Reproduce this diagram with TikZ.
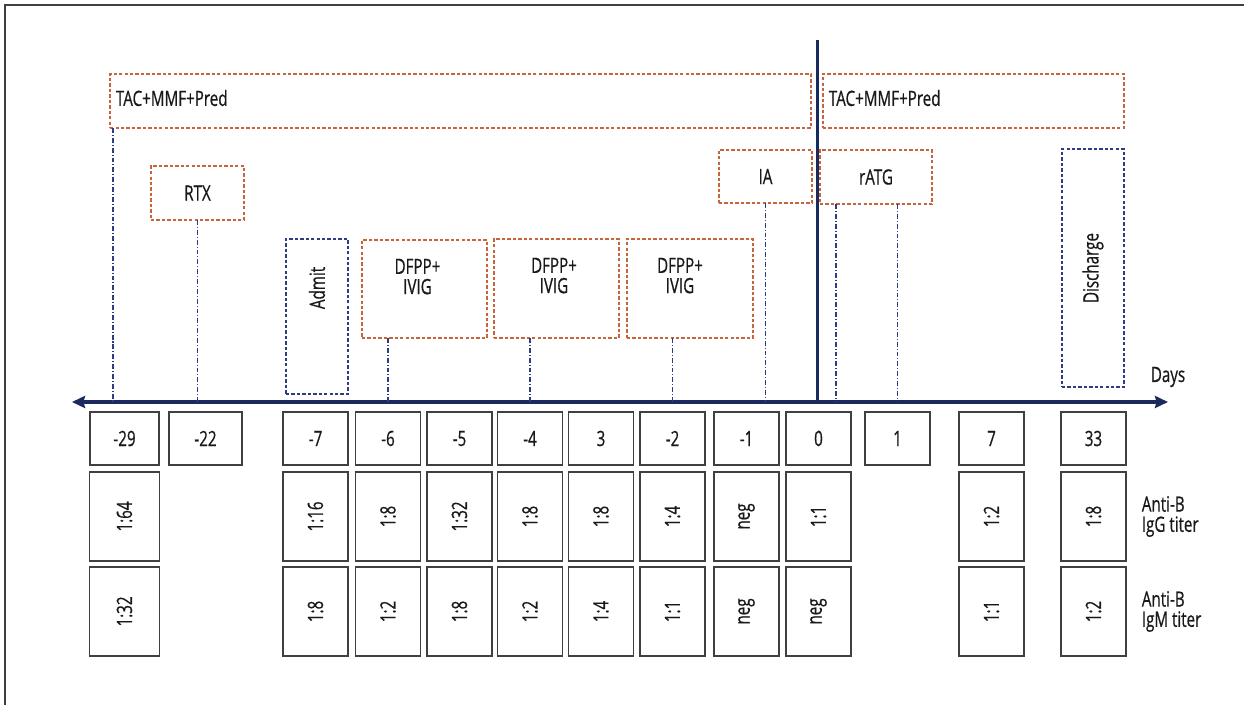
\documentclass[tikz,border=0pt]{standalone}
\usepackage{fontspec}
\setmainfont{Open Sans}[FakeStretch=0.72,FakeBold=0.6]
\usepackage{graphicx}
\usepackage{xcolor}
\definecolor{rustorange}{HTML}{C8643C}
\definecolor{navyline}{HTML}{1B2A5E}
\definecolor{navydash}{HTML}{2E3C84}
\definecolor{framegray}{HTML}{404040}
\usetikzlibrary{arrows.meta,positioning}

\begin{document}
\begin{tikzpicture}[
  x=0.02cm, y=-0.02cm,
  every node/.style={font=\fontsize{12}{11.5}\selectfont,text=black!90,outer sep=0pt},
  drug/.style={draw=rustorange,dash pattern=on 1.9pt off 1.2pt,line width=0.75pt,minimum height=1.08cm},
  event/.style={draw=navydash,dash pattern=on 1.9pt off 1.2pt,line width=0.8pt,minimum width=1.24cm},
  daybox/.style={draw=black!75,line width=0.75pt,minimum width=1.3cm,minimum height=1.06cm},
  titer/.style={draw=black!75,line width=0.75pt,minimum width=1.3cm,minimum height=1.78cm},
  link/.style={draw=navydash,line width=0.85pt,dash pattern=on 2.8pt off 1.1pt on 0.6pt off 1.1pt},
  timeaxis/.style={{Stealth[length=0.26cm,width=0.24cm,inset=0.03cm]}-{Stealth[length=0.26cm,width=0.24cm,inset=0.03cm]},line width=2.2pt,draw=navyline},
  zeroline/.style={line width=1.7pt,draw=navyline}]
\useasboundingbox (0,0) rectangle (1244,705);
\draw[framegray,line width=0.9pt] (1244,5) -- (5,5) -- (5,705);
% time axis and day 0
\coordinate (axL) at (72,402);
\coordinate (axR) at (1168,402);
\coordinate (ztop) at (817,40);
\draw[zeroline] (ztop) -- (ztop |- axL);
\draw[timeaxis] (axL) -- (axR);
\node (days) at (1168,377) {Days};
% treatment boxes
\node[drug,minimum width=14.02cm,label={[anchor=west,yshift=0.06cm]west:TAC+MMF+Pred}] (tac1) at (460.5,101) {};
\node[drug,minimum width=6.02cm,label={[anchor=west,yshift=0.06cm]west:TAC+MMF+Pred}] (tac2) at (973.5,101) {};
\node[drug,minimum width=1.86cm] (rtx) at (197.5,193) {RTX};
\node[drug,minimum width=1.86cm,minimum height=1.06cm] (ia) at (765.5,176.5) {IA};
\node[drug,minimum width=2.24cm] (ratg) at (876,177) {rATG};
\node[drug,minimum width=2.5cm,minimum height=1.96cm,label={[align=center,anchor=north,xshift=-0.14cm,yshift=-0.26cm]north:DFPP+\\IVIG}] (dfpp1) at (424.5,289) {};
\node[drug,minimum width=2.5cm,minimum height=1.98cm,label={[align=center,anchor=north,xshift=-0.05cm,yshift=-0.26cm]north:DFPP+\\IVIG}] (dfpp2) at (556.5,288.5) {};
\node[drug,minimum width=2.52cm,minimum height=1.98cm,label={[align=center,anchor=north,xshift=-0.2cm,yshift=-0.26cm]north:DFPP+\\IVIG}] (dfpp3) at (690,288.5) {};
\node[event,minimum height=3.1cm,label={[anchor=north,yshift=-0.44cm]north:\rotatebox{90}{Admit}}] (admit) at (317,316.5) {};
\node[event,minimum height=4.76cm] (discharge) at (1093,268) {\rotatebox{90}{Discharge}};
% day boxes
\node[daybox,minimum width=1.38cm] (dm29) at (124.5,438.5) {-29};
\node[daybox,minimum width=1.46cm] (dm22) at (205.5,438.5) {-22};
\node[daybox] (dm7) at (315.5,438.5) {-7};
\node[daybox] (dm6) at (388,438.5) {-6};
\node[daybox] (dm5) at (459.5,438.5) {-5};
\node[daybox] (dm4) at (530,438.5) {-4};
\node[daybox] (dp3) at (601,438.5) {3};
\node[daybox] (dm2) at (672.5,438.5) {-2};
\node[daybox] (dm1) at (746.5,438.5) {-1};
\node[daybox] (d0) at (818.5,438.5) {0};
\node[daybox] (dp1) at (897.5,438.5) {1};
\node[daybox] (dp7) at (991.5,438.5) {7};
\node[daybox] (dp33) at (1093.5,438.5) {33};
% anti-B IgG titers
\node[titer,minimum width=1.4cm,below=0.14cm of dm29] (gm29) {\rotatebox{90}{1:64}};
\node[titer,below=0.14cm of dm7] (gm7) {\rotatebox{90}{1:16}};
\node[titer,below=0.14cm of dm6] (gm6) {\rotatebox{90}{1:8}};
\node[titer,below=0.14cm of dm5] (gm5) {\rotatebox{90}{1:32}};
\node[titer,below=0.14cm of dm4] (gm4) {\rotatebox{90}{1:8}};
\node[titer,below=0.14cm of dp3] (gp3) {\rotatebox{90}{1:8}};
\node[titer,below=0.14cm of dm2] (gm2) {\rotatebox{90}{1:4}};
\node[titer,below=0.14cm of dm1] (gm1) {\rotatebox{90}{neg}};
\node[titer,below=0.14cm of d0] (g0) {\rotatebox{90}{1:1}};
\node[titer,below=0.14cm of dp7] (gp7) {\rotatebox{90}{1:2}};
\node[titer,below=0.14cm of dp33] (gp33) {\rotatebox{90}{1:8}};
\node[align=left,right=0.2cm of gp33] (igglab) {Anti-B\\IgG titer};
% anti-B IgM titers
\node[titer,minimum width=1.4cm,below=0.12cm of gm29] (mm29) {\rotatebox{90}{1:32}};
\node[titer,below=0.12cm of gm7] (mm7) {\rotatebox{90}{1:8}};
\node[titer,below=0.12cm of gm6] (mm6) {\rotatebox{90}{1:2}};
\node[titer,below=0.12cm of gm5] (mm5) {\rotatebox{90}{1:8}};
\node[titer,below=0.12cm of gm4] (mm4) {\rotatebox{90}{1:2}};
\node[titer,below=0.12cm of gp3] (mp3) {\rotatebox{90}{1:4}};
\node[titer,below=0.12cm of gm2] (mm2) {\rotatebox{90}{1:1}};
\node[titer,below=0.12cm of gm1] (mm1) {\rotatebox{90}{neg}};
\node[titer,below=0.12cm of g0] (m0) {\rotatebox{90}{neg}};
\node[titer,below=0.12cm of gp7] (mp7) {\rotatebox{90}{1:1}};
\node[titer,below=0.12cm of gp33] (mp33) {\rotatebox{90}{1:2}};
\node[align=left,right=0.2cm of mp33] (igmlab) {Anti-B\\IgM titer};
% drop lines to the axis
\coordinate (tacfoot) at ([xshift=0.06cm]tac1.south west);
\coordinate (ratgfoot) at ([xshift=0.32cm]ratg.south west);
\draw[link] (tacfoot) -- (tacfoot |- axL);
\draw[link] (rtx.south) -- (rtx.south |- axL);
\draw[link] (dfpp1.south -| dm6) -- (axL -| dm6);
\draw[link] (dfpp2.south -| dm4) -- (axL -| dm4);
\draw[link] (dfpp3.south -| dm2) -- (axL -| dm2);
\draw[link] (ia.south) -- (ia.south |- axL);
\draw[link] (ratgfoot) -- (ratgfoot |- axL);
\draw[link] (ratg.south -| dp1) -- (axL -| dp1);
\end{tikzpicture}
\end{document}
